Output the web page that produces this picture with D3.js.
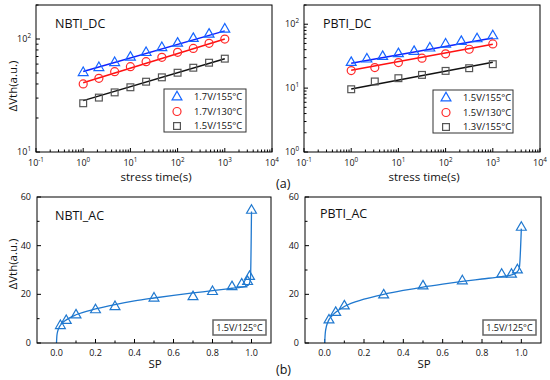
<!DOCTYPE html>
<html><head><meta charset="utf-8">
<script src="https://cdn.jsdelivr.net/npm/d3@7"></script>
<style>body{margin:0;background:#fff} text{font-family:"Open Sans",sans-serif;fill:#111}</style>
</head><body><svg id="c" width="550" height="380"></svg>
<script>
// ---------- data ----------
const timesThird = [1, 2.15, 4.64, 10, 21.5, 46.4, 100, 215, 464, 1000];
const timesHalf = [1, 3.16, 10, 31.6, 100, 316, 1000];
const fitTimes = [1, 1000];

const nbtiLabels = ["1.7V/155°C", "1.7V/130°C", "1.5V/155°C"];
const nbtiTri = [50.3, 55.7, 61.7, 68.9, 75.7, 83.8, 91.6, 101, 110, 122];
const nbtiCirc = [40, 44.9, 51.4, 56.9, 63, 68.9, 76.2, 82.6, 91.6, 99.8];
const nbtiSq = [27, 30.3, 33.7, 37.4, 41.9, 45.8, 50.3, 55.7, 61.7, 67];
const nbtiTriFit = [51.5, 118];
const nbtiCircFit = [41, 100];
const nbtiSqFit = [28.5, 67];

const pbtiLabels = ["1.5V/155°C", "1.5V/130°C", "1.3V/155°C"];
const pbtiTri = [25.1, 28.4, 31.2, 34.4, 37.3, 42.2, 48.7, 53.5, 58.9, 65.6];
const pbtiCirc = [18.8, 21, 25.1, 29.4, 34.4, 40.6, 49.2];
const pbtiSq = [9.6, 12.7, 14.3, 16.1, 18.6, 20.5, 23.7];
const pbtiTriFit = [24.5, 61];
const pbtiCircFit = [19, 48.7];
const pbtiSqFit = [9.7, 25.3];

const nbtiAcSP = [0.02, 0.05, 0.1, 0.2, 0.3, 0.5, 0.7, 0.8, 0.9, 0.95, 0.98, 0.99, 1.0];
const nbtiAcVth = [7.1, 9.2, 11.5, 13.6, 14.9, 18.4, 19, 21.1, 23.1, 24.2, 25.2, 27.3, 54.5];
const nbtiCurveSP = [0, 0.002, 0.006, 0.012, 0.02, 0.035, 0.05, 0.1, 0.2, 0.3, 0.4, 0.5, 0.6, 0.7, 0.8, 0.9, 0.95, 0.98, 0.99, 0.995, 1.0];
const nbtiCurveVth = [0, 3, 4.8, 6.2, 7.3, 8.6, 9.5, 11.6, 14, 15.8, 17.3, 18.5, 19.6, 20.6, 21.5, 22.5, 23, 23.6, 24.6, 27, 54];

const pbtiAcSP = [0.022, 0.056, 0.1, 0.3, 0.5, 0.7, 0.9, 0.95, 0.98, 1.0];
const pbtiAcVth = [9.4, 12.5, 15.2, 19.7, 23.4, 25.5, 28.2, 28.2, 30, 47.5];
const pbtiCurveSP = [0, 0.003, 0.008, 0.015, 0.022, 0.035, 0.056, 0.1, 0.2, 0.3, 0.4, 0.5, 0.6, 0.7, 0.8, 0.9, 0.95, 0.98, 0.99, 1.0];
const pbtiCurveVth = [0, 4, 6.5, 8.3, 9.6, 11, 12.6, 15, 18, 20, 21.6, 23, 24.2, 25.3, 26.3, 27.3, 28, 29.3, 31, 47];
const acLabel = "1.5V/125°C";

const logXTicks = [-1, 0, 1, 2, 3, 4];
const acXTicks = [0, 0.2, 0.4, 0.6, 0.8, 1.0];
const acYTicks = [0, 20, 40, 60];

// ---------- drawing ----------
const svg = d3.select("#c");
const BLUE = "#1565ff", BLUEL = "#1020ff", RED = "#ff2a2a", REDL = "#ff1010", GREY = "#555", BLACKL = "#111";
const AC = "#1f78cf";

function supLabel(g, x, y, base, sup, anchor) {
  const t = g.append("text").attr("x", x).attr("y", y).attr("text-anchor", anchor)
    .attr("font-size", 9);
  t.append("tspan").text(base);
  t.append("tspan").attr("dy", -4).attr("font-size", 6.3).text(sup);
}

function marker(g, type, x, y, color) {
  if (type === "tri") {
    g.append("path").attr("d", d3.symbol(d3.symbolTriangle, 42)())
      .attr("transform", `translate(${x},${y})`).attr("fill", "none")
      .attr("stroke", color).attr("stroke-width", 1.2);
  } else if (type === "circ") {
    g.append("circle").attr("cx", x).attr("cy", y).attr("r", 4)
      .attr("fill", "none").attr("stroke", color).attr("stroke-width", 1.2);
  } else {
    g.append("rect").attr("x", x - 3.4).attr("y", y - 3.4).attr("width", 6.8).attr("height", 6.8)
      .attr("fill", "none").attr("stroke", color).attr("stroke-width", 1.2);
  }
}

function logPanel(o) {
  const g = svg.append("g");
  const x = d3.scaleLog().domain([0.1, 1e4]).range([o.x0, o.x1]);
  const y = d3.scaleLog().domain([o.ymin, 200]).range([152, 5]);
  logXTicks.forEach(k => {
    const v = Math.pow(10, k);
    g.append("line").attr("x1", x(v)).attr("x2", x(v)).attr("y1", 152).attr("y2", 148).attr("stroke", "#000");
    supLabel(g, x(v), 166, "10", String(k), "middle");
    if (k < 4) for (let m = 2; m <= 9; m++) {
      const mv = m * v;
      g.append("line").attr("x1", x(mv)).attr("x2", x(mv)).attr("y1", 152).attr("y2", 149.5).attr("stroke", "#000");
    }
  });
  for (let k = Math.log10(o.ymin); k <= 2; k++) {
    const v = Math.pow(10, k);
    g.append("line").attr("x1", o.x0).attr("x2", o.x0 + 4).attr("y1", y(v)).attr("y2", y(v)).attr("stroke", "#000");
    supLabel(g, o.x0 - 5, y(v) + 3, "10", String(k), "end");
    for (let m = 2; m <= 9; m++) {
      const mv = m * v;
      if (mv > 200) break;
      g.append("line").attr("x1", o.x0).attr("x2", o.x0 + 2.5).attr("y1", y(mv)).attr("y2", y(mv)).attr("stroke", "#000");
    }
  }
  const line = d3.line().x(d => x(d[0])).y(d => y(d[1]));
  o.series.forEach(s => {
    g.append("path").attr("d", line(fitTimes.map((t, i) => [t, s.fit[i]])))
      .attr("fill", "none").attr("stroke", s.lc).attr("stroke-width", 1.5);
  });
  o.series.forEach(s => {
    s.t.forEach((t, i) => marker(g, s.type, x(t), y(s.v[i]), s.mc));
  });
  g.append("rect").attr("x", o.x0).attr("y", 5).attr("width", o.x1 - o.x0).attr("height", 147)
    .attr("fill", "none").attr("stroke", "#000").attr("stroke-width", 1);
  g.append("text").attr("x", o.x0 + 19).attr("y", 28).attr("font-size", 12.5).text(o.title);
  const L = o.legend;
  g.append("rect").attr("x", L.x).attr("y", L.y).attr("width", L.w).attr("height", 43)
    .attr("fill", "#fff").attr("stroke", "#333").attr("stroke-width", 1);
  o.series.forEach((s, i) => {
    const cy = L.y + 8 + i * 14.5;
    marker(g, s.type, L.x + 13, cy, s.mc);
    g.append("text").attr("x", L.x + 30).attr("y", cy + 3.4).attr("font-size", 9.4).text(s.label);
  });
  g.append("text").attr("x", (o.x0 + o.x1) / 2 + 2).attr("y", 181).attr("text-anchor", "middle")
    .attr("font-size", 11.5).text("stress time(s)");
}

function acPanel(o) {
  const g = svg.append("g");
  const x = d3.scaleLinear().domain([-0.1, 1.1]).range([o.x0, o.x1]);
  const y = d3.scaleLinear().domain([0, 60]).range([343, 197]);
  acXTicks.forEach(v => {
    g.append("line").attr("x1", x(v)).attr("x2", x(v)).attr("y1", 343).attr("y2", 339).attr("stroke", "#000");
    g.append("text").attr("x", x(v)).attr("y", 356).attr("text-anchor", "middle").attr("font-size", 9).text(d3.format(".1f")(v));
    if (v < 1) g.append("line").attr("x1", x(v + 0.1)).attr("x2", x(v + 0.1)).attr("y1", 343).attr("y2", 340.5).attr("stroke", "#000");
  });
  acYTicks.forEach(v => {
    g.append("line").attr("x1", o.x0).attr("x2", o.x0 + 4).attr("y1", y(v)).attr("y2", y(v)).attr("stroke", "#000");
    g.append("text").attr("x", o.x0 - 6).attr("y", y(v) + 3).attr("text-anchor", "end").attr("font-size", 9).text(v);
    if (v < 60) g.append("line").attr("x1", o.x0).attr("x2", o.x0 + 2.5).attr("y1", y(v + 10)).attr("y2", y(v + 10)).attr("stroke", "#000");
  });
  const line = d3.line().x(d => x(d[0])).y(d => y(d[1])).curve(d3.curveMonotoneX);
  g.append("path").attr("d", line(o.csp.map((s, i) => [s, o.cv[i]])))
    .attr("fill", "none").attr("stroke", AC).attr("stroke-width", 1.3);
  o.sp.forEach((s, i) => marker(g, "tri", x(s), y(o.v[i]), AC));
  g.append("rect").attr("x", o.x0).attr("y", 197).attr("width", o.x1 - o.x0).attr("height", 146)
    .attr("fill", "none").attr("stroke", "#000").attr("stroke-width", 1);
  g.append("text").attr("x", o.tx).attr("y", o.ty).attr("font-size", 12.5).text(o.title);
  g.append("rect").attr("x", o.x1 - 58).attr("y", 320).attr("width", 53).attr("height", 15)
    .attr("fill", "#fff").attr("stroke", "#666").attr("stroke-width", 1.5);
  g.append("text").attr("x", o.x1 - 31.5).attr("y", 331).attr("text-anchor", "middle").attr("font-size", 9).text(acLabel);
  g.append("text").attr("x", (o.x0 + o.x1) / 2 + 1).attr("y", 368).attr("text-anchor", "middle").attr("font-size", 11.5).text("SP");
}

logPanel({
  x0: 36, x1: 272, ymin: 10, title: "NBTI_DC",
  legend: { x: 164, y: 89, w: 82 },
  series: [
    { type: "tri", t: timesThird, v: nbtiTri, fit: nbtiTriFit, mc: BLUE, lc: BLUEL, label: nbtiLabels[0] },
    { type: "circ", t: timesThird, v: nbtiCirc, fit: nbtiCircFit, mc: RED, lc: REDL, label: nbtiLabels[1] },
    { type: "sq", t: timesThird, v: nbtiSq, fit: nbtiSqFit, mc: GREY, lc: BLACKL, label: nbtiLabels[2] }
  ]
});
logPanel({
  x0: 304, x1: 540, ymin: 1, title: "PBTI_DC",
  legend: { x: 433, y: 90, w: 80 },
  series: [
    { type: "tri", t: timesThird, v: pbtiTri, fit: pbtiTriFit, mc: BLUE, lc: BLUEL, label: pbtiLabels[0] },
    { type: "circ", t: timesHalf, v: pbtiCirc, fit: pbtiCircFit, mc: RED, lc: REDL, label: pbtiLabels[1] },
    { type: "sq", t: timesHalf, v: pbtiSq, fit: pbtiSqFit, mc: GREY, lc: BLACKL, label: pbtiLabels[2] }
  ]
});
acPanel({ x0: 37, x1: 271, title: "NBTI_AC", tx: 55, ty: 220, sp: nbtiAcSP, v: nbtiAcVth, csp: nbtiCurveSP, cv: nbtiCurveVth });
acPanel({ x0: 305, x1: 541, title: "PBTI_AC", tx: 320, ty: 218, sp: pbtiAcSP, v: pbtiAcVth, csp: pbtiCurveSP, cv: pbtiCurveVth });

[86, 264].forEach(cy => {
  svg.append("text").attr("transform", `translate(17,${cy}) rotate(-90)`).attr("text-anchor", "middle")
    .attr("font-size", 11.5).text("ΔVth(a.u.)");
});
svg.append("text").attr("x", 276).attr("y", 188).attr("font-size", 12.5).text("(a)");
svg.append("text").attr("x", 276).attr("y", 374).attr("font-size", 12.5).text("(b)");
</script></body></html>
